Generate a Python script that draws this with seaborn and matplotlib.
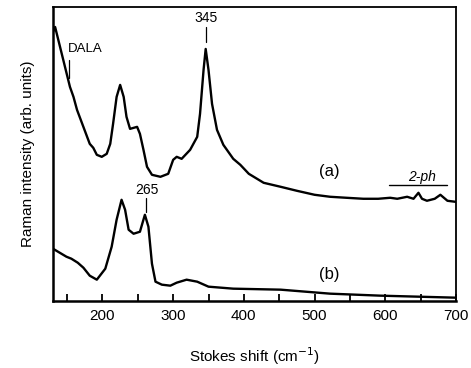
import matplotlib
matplotlib.use("Agg")
import matplotlib.pyplot as plt
import seaborn as sns
import pandas as pd

sns.set_theme(style="ticks")
plt.rcParams['font.family'] = ['Liberation Sans', 'DejaVu Sans']
plt.rcParams['text.color'] = 'black'
plt.rcParams['axes.labelcolor'] = 'black'

# spectrum (a) (arb. units)
shift_a = [130, 133, 140, 147, 154, 159, 164, 173, 182, 187, 192, 199, 206, 211, 215, 220, 225,
           230, 234, 239, 244, 249, 253, 258, 263, 270, 282, 293, 300, 305, 312, 324, 334, 338,
           343, 346, 350, 355, 362, 371, 385, 395, 407, 428, 452, 475, 500, 522, 545, 569, 590,
           607, 617, 631, 640, 647, 652, 659, 670, 678, 688, 699]
int_a = [269, 274, 254, 234, 214, 204, 191, 174, 157, 153, 146, 144, 147, 157, 177, 204, 216,
         204, 184, 172, 173, 174, 167, 151, 134, 126, 124, 127, 141, 144, 142, 151, 164, 187,
         231, 252, 231, 197, 171, 156, 142, 136, 127, 118, 114, 110, 106, 104, 103, 102, 102,
         103, 102, 104, 102, 108, 102, 100, 102, 106, 100, 99]

# spectrum (b)
shift_b = [130, 149, 156, 165, 173, 182, 192, 204, 213, 220, 227, 232, 237, 244, 253, 260, 265,
           270, 275, 284, 296, 305, 319, 334, 350, 385, 452, 522, 593, 699]
int_b = [52, 44, 42, 38, 33, 25, 21, 32, 54, 81, 101, 91, 71, 67, 69, 86, 74, 37, 19, 16, 15,
         18, 21, 19, 14, 12, 11, 7, 5, 3]

df_a = pd.DataFrame({"shift": shift_a, "intensity": int_a})
df_b = pd.DataFrame({"shift": shift_b, "intensity": int_b})

fig = plt.figure(figsize=(4.71, 3.68), dpi=100)
ax = fig.add_axes([0.1125, 0.183, 0.8555, 0.798])

sns.lineplot(data=df_a, x="shift", y="intensity", ax=ax, color="black", lw=1.7)
sns.lineplot(data=df_b, x="shift", y="intensity", ax=ax, color="black", lw=1.7)

ax.set_xlim(130, 700)
ax.set_ylim(0, 294)
ax.set_xticks([200, 300, 400, 500, 600, 700])
ax.set_xticks([150, 250, 350, 450, 550, 650], minor=True)
ax.tick_params(axis="x", which="both", direction="in", length=5, width=1.3,
               labelsize=11, pad=6, colors="black", top=False)
ax.set_yticks([])
ax.set_xlabel("Stokes shift (cm$^{-1}$)", fontsize=11, labelpad=16)
ax.set_ylabel("Raman intensity (arb. units)", fontsize=11, labelpad=13)
for side in ["left", "bottom"]:
    ax.spines[side].set_linewidth(1.8)
for side in ["top", "right"]:
    ax.spines[side].set_linewidth(1.3)
for s in ax.spines.values():
    s.set_color("black")

# peak labels
ax.plot([153, 153], [223, 241], color="black", lw=0.9)
ax.text(151, 252, "DALA", fontsize=9.5, ha="left", va="center")
ax.plot([346, 346], [259, 274], color="black", lw=0.9)
ax.text(346, 283, "345", fontsize=10, ha="center", va="center")
ax.plot([261, 261], [89, 103], color="black", lw=0.9)
ax.text(263, 111, "265", fontsize=10, ha="center", va="center")

ax.text(521, 129, "(a)", fontsize=12, ha="center", va="center")
ax.text(521, 26, "(b)", fontsize=12, ha="center", va="center")
ax.plot([606, 687], [116, 116], color="black", lw=1.0)
ax.text(652, 124, "2-ph", fontsize=10, style="italic", ha="center", va="center")

fig.savefig("out.png", dpi=100)
